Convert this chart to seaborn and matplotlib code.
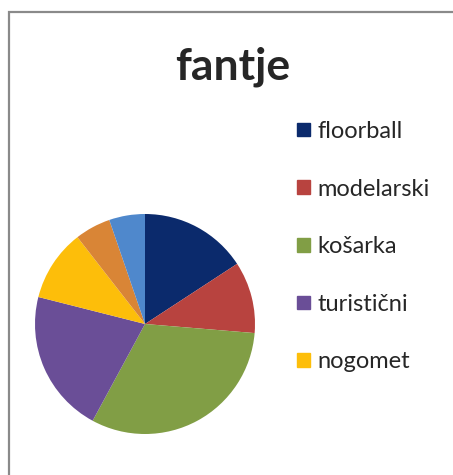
import matplotlib
matplotlib.use('Agg')
import matplotlib.pyplot as plt
import matplotlib.patches as mpatches
import seaborn as sns

# data (counts, clockwise from 12 o'clock)
krozki = ['floorball', 'modelarski', 'košarka', 'turistični', 'nogomet', 'drugo', 'ostalo']
stevilo = [3, 2, 6, 4, 2, 1, 1]
barve = ['#0B2A6C', '#B8433F', '#819E45', '#6A4E97', '#FDBE0A', '#D98536', '#4F88CC']
n_legenda = 5  # legend in the reference only shows the first five

sns.set_style('white')
plt.rcParams['font.family'] = ['Lato', 'DejaVu Sans']

fig = plt.figure(figsize=(4.53, 4.75), dpi=100)

# pie centre ~ (145, 324) px, radius ~110 px
cx, cy, r = 145, 324, 110
ax = fig.add_axes([(cx - r) / 453, (475 - cy - r) / 475, 2 * r / 453, 2 * r / 475])
ax.pie(stevilo, colors=barve, startangle=90, counterclock=False,
       wedgeprops=dict(linewidth=0))
ax.set_xlim(-1, 1)
ax.set_ylim(-1, 1)
ax.set_aspect('equal')
ax.axis('off')

fig.text(233 / 453, 1 - 67 / 475, 'fantje', ha='center', va='center',
         fontsize=32, fontweight='bold')

handles = [mpatches.Patch(color=c, label=l)
           for c, l in zip(barve[:n_legenda], krozki[:n_legenda])]
fig.legend(handles=handles, loc='upper left', bbox_to_anchor=(297 / 453, 1 - 121 / 475),
           frameon=False, fontsize=17, labelspacing=1.55, handlelength=0.55,
           handleheight=0.5, handletextpad=0.3, borderpad=0, borderaxespad=0)

# chart frame: only top and left edges are visible in the crop
frame = mpatches.Rectangle((9 / 453, -0.1), 1.2, 1 - 12 / 475 + 0.1,
                           transform=fig.transFigure, fill=False,
                           edgecolor='#8a8a8a', linewidth=1.6)
fig.add_artist(frame)

fig.savefig('out.png', dpi=100)
